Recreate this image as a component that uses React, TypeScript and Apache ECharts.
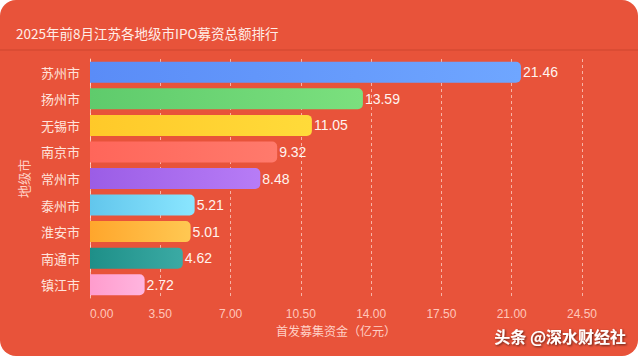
import React, { useEffect, useRef } from "react";
import * as echarts from "echarts";

const titleText = "2025年前8月江苏各地级市IPO募资总额排行";
const cities = ["苏州市", "扬州市", "无锡市", "南京市", "常州市", "泰州市", "淮安市", "南通市", "镇江市"];
const amounts = [21.46, 13.59, 11.05, 9.32, 8.48, 5.21, 5.01, 4.62, 2.72];
const barColors = [
  ["#5A8CF7", "#6FA6FF"],
  ["#5FCB6C", "#7BE07E"],
  ["#FFC929", "#FFDB3A"],
  ["#FF665A", "#FF7A6C"],
  ["#9B5DE6", "#B77CF6"],
  ["#62C6EC", "#8AE6FF"],
  ["#FFA62C", "#FFC852"],
  ["#1E8F88", "#3BAAA4"],
  ["#FF9CCD", "#FFB5DF"],
];

export default function App() {
  const ref = useRef<HTMLDivElement>(null);
  useEffect(() => {
    const chart = echarts.init(ref.current!, null, { renderer: "svg" });
    chart.setOption({
      animation: false,
      backgroundColor: "transparent",
      title: {
        text: titleText,
        left: 11,
        top: 21,
        textStyle: { color: "#FFEDE8", fontSize: 13.5, fontWeight: "normal", fontFamily: "Noto Sans CJK SC" },
      },
      graphic: [
        {
          type: "line",
          shape: { x1: 0, y1: 50, x2: 640, y2: 50 },
          style: { stroke: "rgba(120,30,10,0.22)", lineWidth: 1 },
        },
        {
          type: "text",
          right: 12,
          top: 328,
          style: {
            text: "头条 @深水财经社",
            fill: "#FFFFFF",
            font: "bold 16px 'Noto Sans CJK SC'",
            textShadowColor: "rgba(0,0,0,0.6)",
            textShadowBlur: 2,
            textShadowOffsetX: 1,
            textShadowOffsetY: 1,
          },
        },
      ],
      grid: { left: 90, right: 56, top: 59, bottom: 58 },
      xAxis: {
        type: "value",
        min: 0,
        max: 24.5,
        interval: 3.5,
        name: "首发募集资金（亿元）",
        nameLocation: "middle",
        nameGap: 26,
        nameTextStyle: { color: "#FFD0C6", fontSize: 12, fontFamily: "Noto Sans CJK SC" },
        axisLine: { show: false },
        axisTick: { show: false },
        axisLabel: {
          color: "#FFC6BA",
          fontSize: 12,
          margin: 10,
          alignMinLabel: "left",
          formatter: (v: number) => v.toFixed(2),
        },
        splitLine: { show: true, lineStyle: { color: "rgba(255,220,210,0.7)", type: [3, 3], width: 1 } },
      },
      yAxis: {
        type: "category",
        inverse: true,
        data: cities,
        name: "地级市",
        nameLocation: "middle",
        nameGap: 54,
        nameTextStyle: { color: "#FFD0C6", fontSize: 13, fontFamily: "Noto Sans CJK SC" },
        axisLine: { show: true, lineStyle: { color: "rgba(255,220,210,0.75)", width: 1 } },
        axisTick: { show: false },
        axisLabel: { color: "#FFE3DC", fontSize: 13, margin: 10, fontFamily: "Noto Sans CJK SC" },
      },
      series: [
        {
          type: "bar",
          barWidth: 21,
          data: amounts.map((v, i) => ({
            value: v,
            itemStyle: {
              borderRadius: [0, 5, 5, 0],
              color: new echarts.graphic.LinearGradient(0, 0, 1, 0, [
                { offset: 0, color: barColors[i][0] },
                { offset: 1, color: barColors[i][1] },
              ]),
            },
          })),
          label: {
            show: true,
            position: "right",
            distance: 2,
            color: "#FFF3EF",
            fontSize: 14,
            formatter: (p: any) => p.value.toFixed(2),
          },
        },
      ],
    });
    return () => chart.dispose();
  }, []);
  return (
    <div style={{ position: "fixed", left: 0, top: 0, width: 640, height: 356, background: "#FFFFFF" }}>
      <div
        ref={ref}
        style={{ width: 638, height: 356, background: "#E8533A", borderRadius: 16, overflow: "hidden" }}
      />
    </div>
  );
}
